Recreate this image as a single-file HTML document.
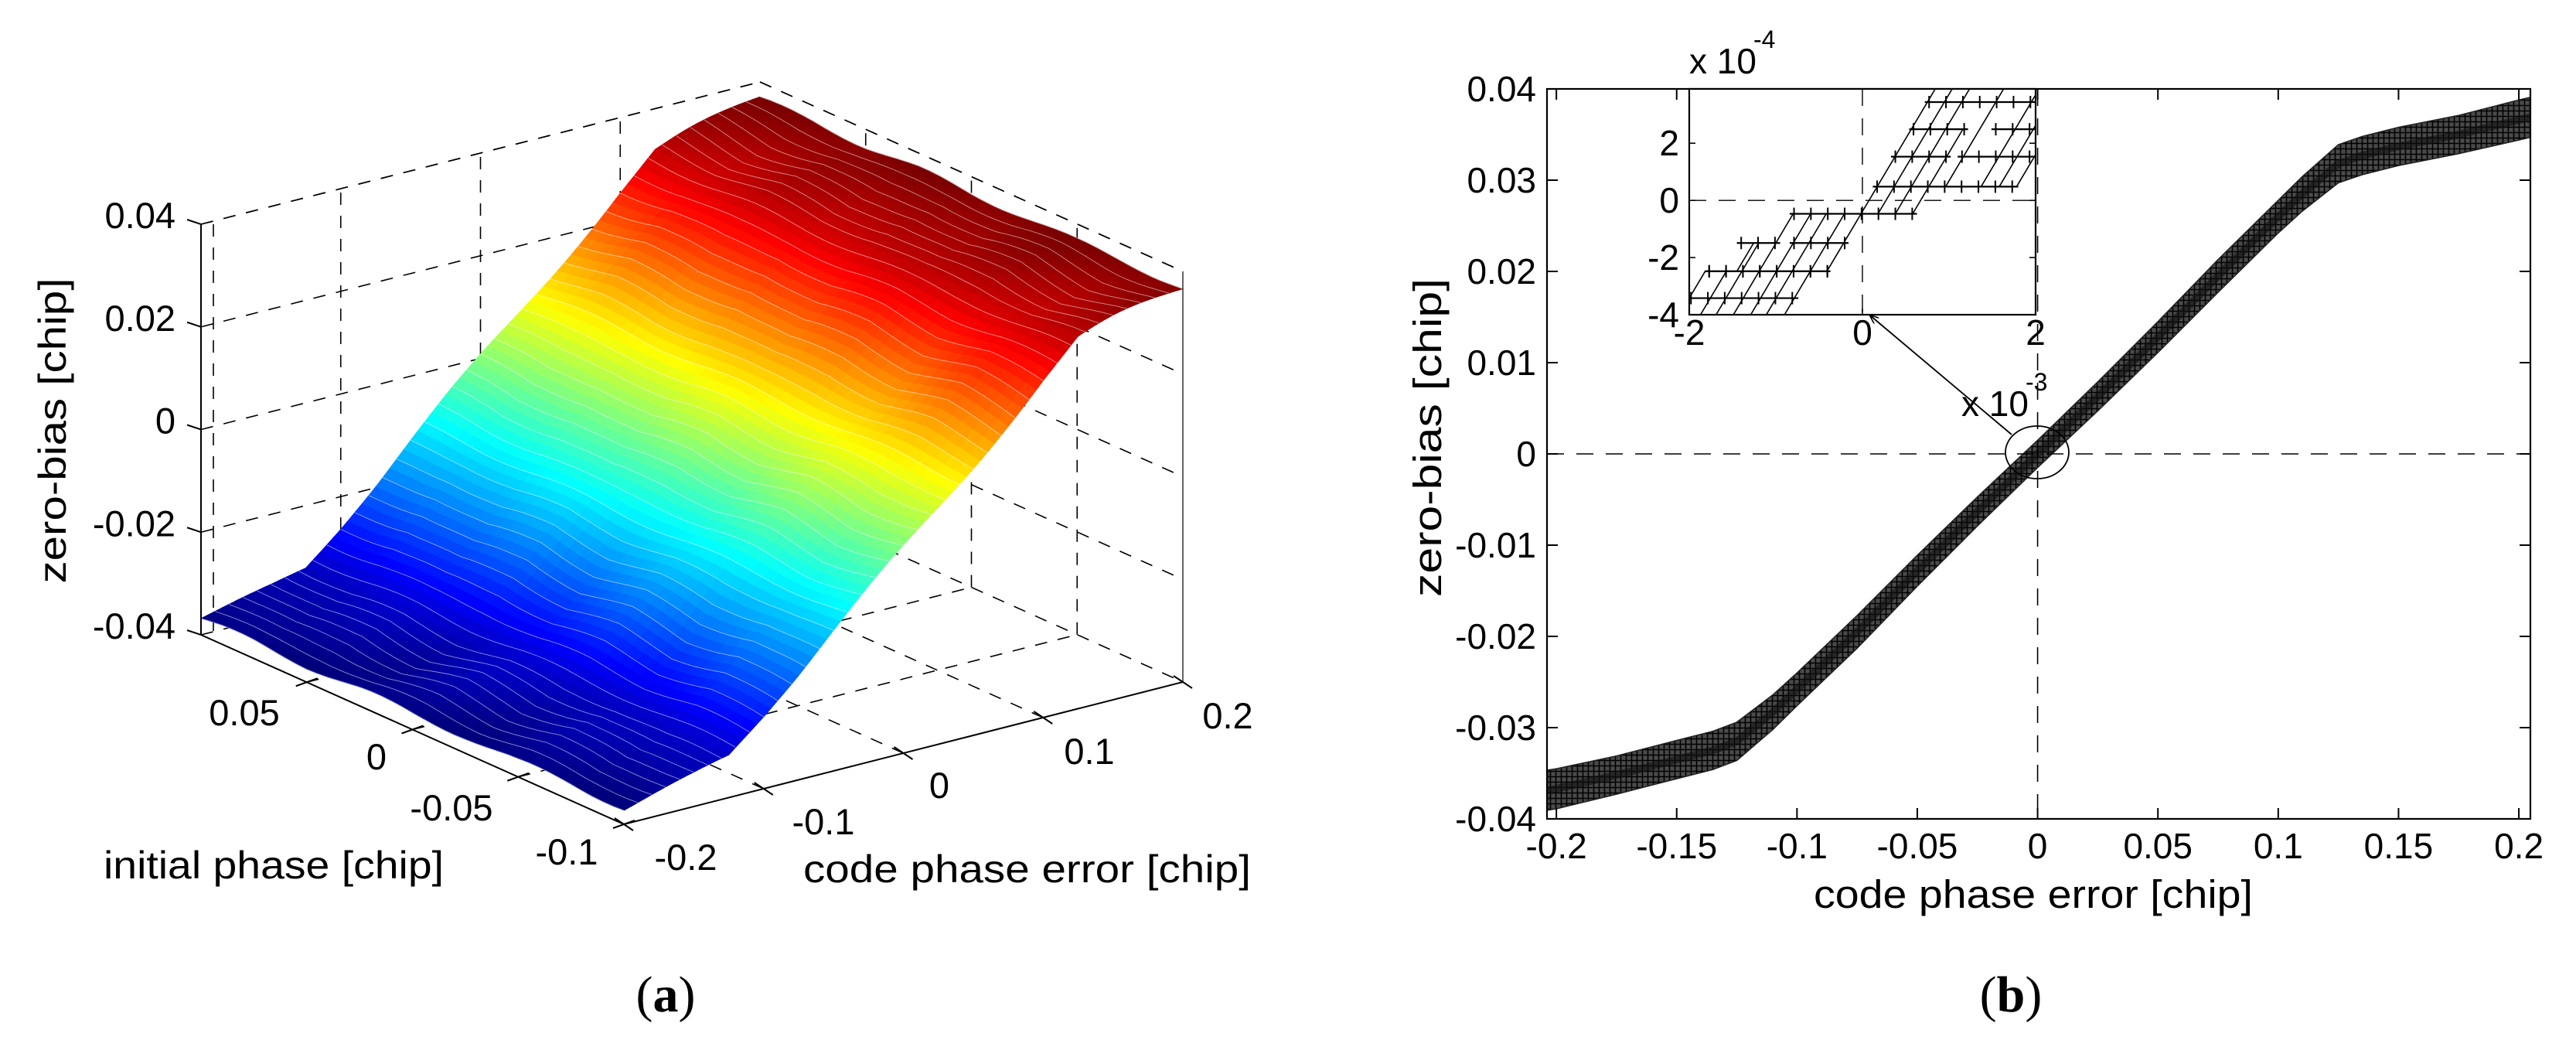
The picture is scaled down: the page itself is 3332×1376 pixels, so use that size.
<!DOCTYPE html>
<html><head><meta charset="utf-8"><style>
html,body{margin:0;padding:0;background:#fff;}
svg{display:block;font-family:"Liberation Sans",Arial,sans-serif;}
</style></head><body>
<svg id="fig" width="3332" height="1376" viewBox="0 0 3332 1376" xmlns="http://www.w3.org/2000/svg">
<defs>
<pattern id="hatch" width="7" height="7" patternUnits="userSpaceOnUse">
<rect width="7" height="7" fill="#4a4a4a"/>
<path d="M3.5 0V7M0 3.5H7" stroke="#000" stroke-width="1.6"/>
</pattern>
<marker id="ah" markerWidth="12" markerHeight="10" refX="11" refY="5" orient="auto" markerUnits="userSpaceOnUse"><path d="M0 0L12 5L0 10" fill="none" stroke="#000" stroke-width="1.6"/></marker>
</defs>
<g id="panelA"></g>
<g id="panelB"></g>
<text x="861" y="1308" text-anchor="middle" font-family="Liberation Serif, serif" font-size="66">(<tspan font-weight="bold">a</tspan>)</text>
<text x="2601" y="1308" text-anchor="middle" font-family="Liberation Serif, serif" font-size="66">(<tspan font-weight="bold">b</tspan>)</text>
</svg>
<script>
// ---------- data: panel (a) surface ----------
const surfX = [-0.2,-0.175,-0.15,-0.125,-0.1,-0.075,-0.05,-0.025,0,0.025,0.05,0.075,0.1,0.125,0.15,0.175,0.2];
const surfZ = [-0.0368,-0.0352,-0.0336,-0.0318,-0.0258,-0.0195,-0.0128,-0.0063,0,0.0063,0.0128,0.0195,0.026,0.0318,0.0336,0.0352,0.0368];
const rippleP = [-0.1,-0.075,-0.05,-0.025,0,0.025,0.05,0.075,0.1];
const rippleZ = [0.0008,-0.0006,0.0010,-0.0004,0.0007,-0.0009,0.0005,-0.0007,0.0006];
const zTicks = [-0.04,-0.02,0,0.02,0.04];
const zTickLabels = ["-0.04","-0.02","0","0.02","0.04"];
const pTicks = [0.05,0,-0.05,-0.1];
const pTickLabels = ["0.05","0","-0.05","-0.1"];
const xTicks3 = [-0.2,-0.1,0,0.1,0.2];
const xTickLabels3 = ["-0.2","-0.1","0","0.1","0.2"];
// ---------- data: panel (b) ----------
const bandX = [-0.205,-0.2,-0.175,-0.15,-0.135,-0.125,-0.11,-0.1,-0.075,-0.05,-0.025,0,0.025,0.05,0.075,0.1,0.11,0.125,0.135,0.15,0.175,0.2,0.205];
const bandY = [-0.0369,-0.0367,-0.0352,-0.0335,-0.0325,-0.0315,-0.0283,-0.0258,-0.0195,-0.0128,-0.0063,0,0.0063,0.0128,0.0195,0.026,0.0285,0.0318,0.0327,0.0337,0.035,0.0366,0.0369];
const bandHalf = [0.0022,0.0022,0.0021,0.0021,0.0021,0.0021,0.0019,0.0018,0.0018,0.0017,0.0016,0.0015,0.0016,0.0017,0.0018,0.0018,0.0019,0.0021,0.0021,0.0021,0.0021,0.0022,0.0022];
const xTicksB = [-0.2,-0.15,-0.1,-0.05,0,0.05,0.1,0.15,0.2];
const xTickLabelsB = ["-0.2","-0.15","-0.1","-0.05","0","0.05","0.1","0.15","0.2"];
const yTicksB = [-0.04,-0.03,-0.02,-0.01,0,0.01,0.02,0.03,0.04];
const yTickLabelsB = ["-0.04","-0.03","-0.02","-0.01","0","0.01","0.02","0.03","0.04"];
// inset (x in 1e-3, y in 1e-4)
const stepLevels = [-3.42,-2.48,-2.48,-1.49,-1.49,-0.47,0.48,1.53,1.53,2.49,2.49,3.44];
const stepStart  = [-2.03,-1.82,-1.82,-1.45,-0.84,-0.84,0.12,0.33,1.10,0.54,1.49,0.72];
const stepEnd    = [-0.74,-0.37,-0.37,-0.95,-0.16,0.63,1.80,1.02,2.0,1.22,2.0,2.0];
const diagX0 = [-1.87,-1.69,-1.49,-1.29,-1.11,-0.90,-2.0,-1.45,-1.0,-0.41,0.38,0.58,0.96,1.37,1.58,1.78,0.18];
const diagY0 = [-4,-4,-4,-4,-4,-4,-3.42,-2.48,-1.49,-2.48,-0.47,-0.47,0.48,0.48,0.48,0.48,-0.47];
const diagY1 = [-2.48,-1.49,-1.49,-0.47,-0.47,-0.47,-2.48,-1.49,-0.47,3.9,3.9,2.49,3.9,3.9,3.44,2.49,3.9];
const insetXTicks = [-2,0,2];
const insetYTicks = [-4,-2,0,2];

const NS = "http://www.w3.org/2000/svg";
function mk(parent, tag, attrs, text){
  const e = document.createElementNS(NS, tag);
  for (const k in attrs) e.setAttribute(k, attrs[k]);
  if (text !== undefined) e.textContent = text;
  parent.appendChild(e);
  return e;
}
function interp(xs, ys, x){
  if (x <= xs[0]) return ys[0];
  for (let i=1;i<xs.length;i++){ if (x <= xs[i]){ const t=(x-xs[i-1])/(xs[i]-xs[i-1]); return ys[i-1]+t*(ys[i]-ys[i-1]); } }
  return ys[ys.length-1];
}
function jet(t){
  const c = v => Math.max(0, Math.min(1, v));
  const r = c(1.5-Math.abs(4*t-3)), g = c(1.5-Math.abs(4*t-2)), b = c(1.5-Math.abs(4*t-1));
  return "rgb("+Math.round(r*255)+","+Math.round(g*255)+","+Math.round(b*255)+")";
}

// ---------- panel (a) ----------
const A = document.getElementById("panelA");
const C0 = [807,1066], B0 = [1530,882], A0 = [260,821], ZH = 531;
function P(x,p,z){
  const u=(x+0.2)/0.4, v=(p+0.1)/0.2;
  return [C0[0]+u*(B0[0]-C0[0])+v*(A0[0]-C0[0]), C0[1]+u*(B0[1]-C0[1])+v*(A0[1]-C0[1]) - (z+0.04)/0.08*ZH];
}
function line3(g, a, b, attrs){
  const s=P(...a), e=P(...b);
  return mk(g,"line",Object.assign({x1:s[0],y1:s[1],x2:e[0],y2:e[1]},attrs));
}
const dash = {stroke:"#000","stroke-width":1.6,"stroke-dasharray":"16 14",fill:"none"};
const grid = mk(A,"g",{});


zTicks.forEach(z=>line3(grid,[-0.2,0.1,z],[0.2,0.1,z],dash));
[-0.1,0,0.1].forEach(x=>line3(grid,[x,0.1,-0.04],[x,0.1,0.04],dash));
zTicks.forEach(z=>line3(grid,[0.2,0.1,z],[0.2,-0.1,z],dash));
[0.05,0,-0.05].forEach(p=>line3(grid,[0.2,p,-0.04],[0.2,p,0.04],dash));
[-0.1,0,0.1].forEach(x=>line3(grid,[x,-0.1,-0.04],[x,0.1,-0.04],dash));
[0.05,0,-0.05].forEach(p=>line3(grid,[-0.2,p,-0.04],[0.2,p,-0.04],dash));
line3(grid,[-0.2,0.1,0.04],[-0.2,0.1,-0.04],{stroke:"#000","stroke-width":1.6,"stroke-dasharray":"16 14",transform:"translate(16,0)"});

// surface
const surf = mk(A,"g",{});


const NX=80, NP=40;
function zAt(x,p){ return interp(surfX,surfZ,x) + interp(rippleP,rippleZ,p)*Math.cos(x*40) + 0.0006*Math.sin(p*90+x*30); }
const zmin=surfZ[0], zmax=surfZ[surfZ.length-1];
const quads=[];
for(let i=0;i<NX;i++){ for(let j=0;j<NP;j++){
  const x0=-0.2+0.4*i/NX, x1=-0.2+0.4*(i+1)/NX, p0=-0.1+0.2*j/NP, p1=-0.1+0.2*(j+1)/NP;
  quads.push({x0,x1,p0,p1,d:(x0+0.2)/0.4+(p0+0.1)/0.2});
}}
quads.sort((a,b)=>b.d-a.d);
quads.forEach(q=>{
  const pts=[[q.x0,q.p0],[q.x1,q.p0],[q.x1,q.p1],[q.x0,q.p1]].map(([x,p])=>P(x,p,zAt(x,p)));
  const zc=zAt((q.x0+q.x1)/2,(q.p0+q.p1)/2);
  const col=jet((zc-zmin)/(zmax-zmin));
  mk(surf,"polygon",{points:pts.map(v=>v[0].toFixed(1)+","+v[1].toFixed(1)).join(" "),fill:col,stroke:col,"stroke-width":0.8});
});
for(let i=0;i<=NX;i+=2){
  const x=-0.2+0.4*i/NX; const pts=[];
  for(let j=0;j<=NP;j++){ const p=-0.1+0.2*j/NP; pts.push(P(x,p,zAt(x,p))); }
  mk(surf,"polyline",{points:pts.map(v=>v[0].toFixed(1)+","+v[1].toFixed(1)).join(" "),fill:"none",stroke:"#fff","stroke-width":0.9,"stroke-opacity":0.55});
}

const ax = mk(A,"g",{stroke:"#000","stroke-width":2,fill:"none"});


line3(ax,[-0.2,0.1,-0.04],[-0.2,0.1,0.04],{});
line3(ax,[-0.2,0.1,-0.04],[-0.2,-0.1,-0.04],{});
line3(ax,[-0.2,-0.1,-0.04],[0.2,-0.1,-0.04],{});
line3(ax,[0.2,-0.1,-0.04],[0.2,-0.1,0.04],{"stroke-width":1.2});
line3(grid,[-0.2,0.1,0.04],[0.2,0.1,0.04],dash);
line3(grid,[0.2,0.1,0.04],[0.2,-0.1,0.04],dash);
zTicks.forEach((z,i)=>{
  const q=P(-0.2,0.1,z);
  mk(ax,"line",{x1:q[0],y1:q[1],x2:q[0]-18,y2:q[1]-6});
  const t=mk(A,"text",{x:227,y:q[1]+5,"text-anchor":"end","font-size":47},zTickLabels[i]);
  
  
});
const pLabPos=[[316,921],[487,978],[584,1044],[733,1101]];
pTicks.forEach((p,i)=>{
  const q=P(-0.2,p,-0.04);
  mk(ax,"line",{x1:q[0]-14,y1:q[1]+5,x2:q[0]+14,y2:q[1]-5});
  const t=mk(A,"text",{x:pLabPos[i][0],y:pLabPos[i][1]+17,"text-anchor":"middle","font-size":47},pTickLabels[i]);
  
  
});
const xLabPos=[[887,1108],[1065,1062],[1215,1015],[1409,971],[1588,925]];
xTicks3.forEach((x,i)=>{
  const q=P(x,-0.1,-0.04);
  mk(ax,"line",{x1:q[0]-12,y1:q[1]-8,x2:q[0]+12,y2:q[1]+8});
  const t=mk(A,"text",{x:xLabPos[i][0],y:xLabPos[i][1]+17,"text-anchor":"middle","font-size":47},xTickLabels3[i]);
  
  
});
let t1=mk(A,"text",{x:134,y:1136,"font-size":50,textLength:440,lengthAdjust:"spacingAndGlyphs"},"initial phase [chip]");


let t2=mk(A,"text",{x:1039,y:1141,"font-size":50,textLength:579,lengthAdjust:"spacingAndGlyphs"},"code phase error [chip]");


let t3=mk(A,"text",{x:0,y:0,"font-size":50,"text-anchor":"middle",textLength:395,lengthAdjust:"spacingAndGlyphs",transform:"translate(85,557) rotate(-90)"},"zero-bias [chip]");



// ---------- panel (b) ----------
const Bp = document.getElementById("panelB");
const L=2001, R=3273, T=115, Bt=1059, XMIN=-0.2039, XMAX=0.2048, YMIN=-0.04, YMAX=0.04;
const sx = x => L+(x-XMIN)/(XMAX-XMIN)*(R-L);
const sy = y => Bt-(y-YMIN)/(YMAX-YMIN)*(Bt-T);
let up=[],lo=[];
bandX.forEach((x,i)=>{ up.push(sx(x).toFixed(1)+","+sy(bandY[i]+bandHalf[i]).toFixed(1)); lo.unshift(sx(x).toFixed(1)+","+sy(bandY[i]-bandHalf[i]).toFixed(1)); });
const clip = mk(Bp,"clipPath",{id:"clipB"}); mk(clip,"rect",{x:L,y:T,width:R-L,height:Bt-T});
const band=mk(Bp,"polygon",{points:up.concat(lo).join(" "),fill:"url(#hatch)",stroke:"#222","stroke-width":1.5,"clip-path":"url(#clipB)"});


const cl=mk(Bp,"polyline",{points:bandX.map((x,i)=>sx(x).toFixed(1)+","+sy(bandY[i]).toFixed(1)).join(" "),fill:"none",stroke:"#111","stroke-width":10,"stroke-opacity":0.6,"clip-path":"url(#clipB)"});


let zl=mk(Bp,"line",{x1:L,y1:sy(0),x2:R,y2:sy(0),stroke:"#000","stroke-width":1.6,"stroke-dasharray":"22 16"});


let zv=mk(Bp,"line",{x1:sx(0),y1:T,x2:sx(0),y2:Bt,stroke:"#000","stroke-width":1.6,"stroke-dasharray":"22 16"});


let fr=mk(Bp,"rect",{x:L,y:T,width:R-L,height:Bt-T,fill:"none",stroke:"#000","stroke-width":2.2});


xTicksB.forEach((x,i)=>{
  mk(Bp,"line",{x1:sx(x),y1:Bt,x2:sx(x),y2:Bt-14,stroke:"#000","stroke-width":2});
  mk(Bp,"line",{x1:sx(x),y1:T,x2:sx(x),y2:T+14,stroke:"#000","stroke-width":2});
  const t=mk(Bp,"text",{x:sx(x),y:1110,"text-anchor":"middle","font-size":46},xTickLabelsB[i]);
  
  
});
yTicksB.forEach((y,i)=>{
  mk(Bp,"line",{x1:L,y1:sy(y),x2:L+14,y2:sy(y),stroke:"#000","stroke-width":2});
  mk(Bp,"line",{x1:R,y1:sy(y),x2:R-14,y2:sy(y),stroke:"#000","stroke-width":2});
  const t=mk(Bp,"text",{x:1987,y:sy(y)+16,"text-anchor":"end","font-size":46},yTickLabelsB[i]);
  
  
});
let xt=mk(Bp,"text",{x:2630,y:1174,"text-anchor":"middle","font-size":51,textLength:568,lengthAdjust:"spacingAndGlyphs"},"code phase error [chip]");


let yt=mk(Bp,"text",{x:0,y:0,"text-anchor":"middle","font-size":51,textLength:412,lengthAdjust:"spacingAndGlyphs",transform:"translate(1864,566) rotate(-90)"},"zero-bias [chip]");


let ell=mk(Bp,"ellipse",{cx:2635,cy:585,rx:41,ry:34,fill:"none",stroke:"#000","stroke-width":1.8});


let arr=mk(Bp,"line",{x1:2602,y1:562,x2:2419,y2:408,stroke:"#000","stroke-width":1.8,"marker-end":"url(#ah)"});


let e3=mk(Bp,"text",{x:2537,y:538,"font-size":46},"x 10");


mk(Bp,"text",{x:2620,y:505,"font-size":32},"-3");

const IL=2185, IR=2633, IT=115, IB=407;
const ix = x => IL+(x+2)/4*(IR-IL);
const iy = y => IB-(y+4)/(3.9+4)*(IB-IT);
const inset=mk(Bp,"g",{});


mk(inset,"rect",{x:IL,y:IT,width:IR-IL,height:IB-IT,fill:"#fff"});
const iclip=mk(inset,"clipPath",{id:"clipI"}); mk(iclip,"rect",{x:IL,y:IT,width:IR-IL,height:IB-IT});
mk(inset,"line",{x1:IL,y1:iy(0),x2:IR,y2:iy(0),stroke:"#000","stroke-width":1.4,"stroke-dasharray":"22 16"});
mk(inset,"line",{x1:ix(0),y1:IT,x2:ix(0),y2:IB,stroke:"#000","stroke-width":1.4,"stroke-dasharray":"22 16"});
const stg=mk(inset,"g",{stroke:"#000","stroke-width":1.6,"clip-path":"url(#clipI)",fill:"none"});


const SLOPE=5.1;
diagX0.forEach((x0,i)=>{
  const x1=x0+(diagY1[i]-diagY0[i])/SLOPE;
  mk(stg,"line",{x1:ix(x0),y1:iy(diagY0[i]),x2:ix(x1),y2:iy(diagY1[i])});
});
stepLevels.forEach((lv,i)=>{
  mk(stg,"line",{x1:ix(stepStart[i]),y1:iy(lv),x2:ix(stepEnd[i]),y2:iy(lv),"stroke-width":2.2});
  for(let x=stepStart[i]+0.05;x<=stepEnd[i]+1e-6;x+=0.195){
    mk(stg,"line",{x1:ix(x),y1:iy(lv)-8,x2:ix(x),y2:iy(lv)+8,"stroke-width":2});
  }
});
mk(inset,"rect",{x:IL,y:IT,width:IR-IL,height:IB-IT,fill:"none",stroke:"#000","stroke-width":2.2});
insetXTicks.forEach(x=>{
  mk(inset,"line",{x1:ix(x),y1:IB,x2:ix(x),y2:IB-8,stroke:"#000","stroke-width":1.6});
  const t=mk(inset,"text",{x:ix(x),y:446,"text-anchor":"middle","font-size":46},String(x));
  
  
});
insetYTicks.forEach(y=>{
  mk(inset,"line",{x1:IL,y1:iy(y),x2:IL+8,y2:iy(y),stroke:"#000","stroke-width":1.6});
  mk(inset,"line",{x1:IR,y1:iy(y),x2:IR-8,y2:iy(y),stroke:"#000","stroke-width":1.6});
  const t=mk(inset,"text",{x:2172,y:iy(y)+16,"text-anchor":"end","font-size":46},String(y));
  
  
});
let e4=mk(inset,"text",{x:2185,y:95,"font-size":46},"x 10");


mk(inset,"text",{x:2268,y:62,"font-size":32},"-4");
</script>
</body></html>
